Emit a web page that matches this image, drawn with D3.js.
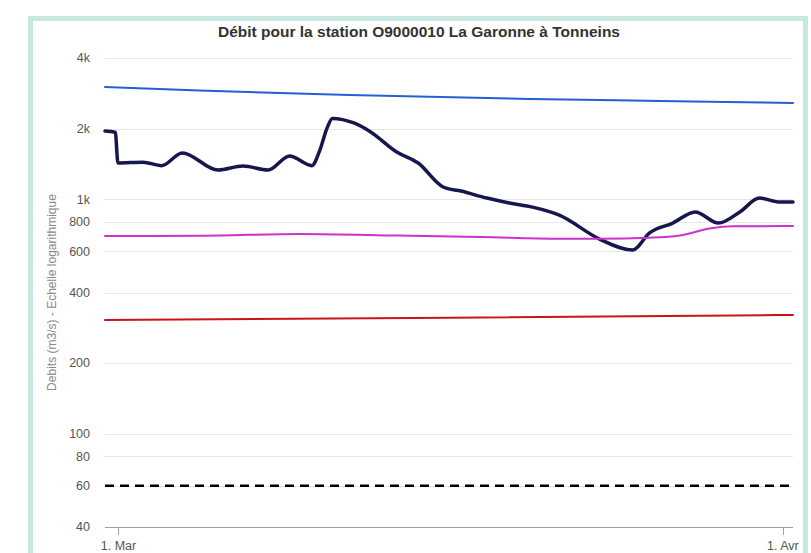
<!DOCTYPE html>
<html lang="fr">
<head>
<meta charset="UTF-8">
<title>Débit O9000010 La Garonne à Tonneins</title>
<script src="https://d3js.org/d3.v7.min.js"></script>
<style>
  body { margin: 0; background: #fff; font-family: "Liberation Sans", Arial, sans-serif; }
  .grid line { stroke: #e6e6e6; stroke-width: 1; }
  .tick-label { fill: #555; font-size: 12.5px; }
</style>
</head>
<body>
<svg id="chart" width="811" height="553"></svg>
<script>
// observed discharge (m3/s)
const debitObs = [
  ["2023-02-28T09:30", 1954], ["2023-02-28T21:00", 1930], ["2023-03-01T00:00", 1426],
  ["2023-03-02T04:00", 1438], ["2023-03-03T01:00", 1390], ["2023-03-04T00:00", 1574],
  ["2023-03-05T16:00", 1331], ["2023-03-06T20:00", 1384], ["2023-03-08T00:00", 1331],
  ["2023-03-09T00:00", 1528], ["2023-03-10T01:00", 1390], ["2023-03-10T10:00", 1620],
  ["2023-03-10T18:00", 2010], ["2023-03-11T00:00", 2210], ["2023-03-12T00:00", 2113],
  ["2023-03-12T18:00", 1945], ["2023-03-14T00:00", 1589], ["2023-03-15T00:00", 1426],
  ["2023-03-16T04:00", 1127], ["2023-03-17T00:00", 1083], ["2023-03-18T05:00", 1011],
  ["2023-03-19T06:00", 963], ["2023-03-20T08:00", 925], ["2023-03-21T14:00", 855],
  ["2023-03-23T11:00", 676], ["2023-03-25T00:00", 607], ["2023-03-25T19:00", 718],
  ["2023-03-26T21:00", 791], ["2023-03-27T22:00", 882], ["2023-03-29T00:00", 791],
  ["2023-03-30T00:00", 882], ["2023-03-30T22:00", 1011], ["2023-03-31T21:00", 972],
  ["2023-04-01T11:30", 972]
];
const seuilBleu = [
  ["2023-02-28T09:30", 3008], ["2023-03-04T19:00", 2907], ["2023-03-08T13:00", 2836],
  ["2023-03-11T19:00", 2782], ["2023-03-20T05:00", 2675], ["2023-03-26T07:00", 2623],
  ["2023-04-01T11:30", 2571]
];
const seuilMagenta = [
  ["2023-02-28T09:30", 697], ["2023-03-04T19:00", 698], ["2023-03-09T12:00", 711],
  ["2023-03-14T02:00", 700], ["2023-03-17T22:00", 690], ["2023-03-21T14:00", 678],
  ["2023-03-23T11:00", 678], ["2023-03-25T19:00", 685], ["2023-03-27T05:00", 700],
  ["2023-03-28T14:00", 750], ["2023-03-29T17:00", 766], ["2023-04-01T11:30", 768]
];
const seuilRouge = [
  ["2023-02-28T09:30", 305], ["2023-03-16T12:00", 312], ["2023-04-01T11:30", 321]
];
const seuilNoir = [["2023-02-28T09:30", 60], ["2023-04-01T11:30", 60]];

const yTicks = [40, 60, 80, 100, 200, 400, 600, 800, 1000, 2000, 4000];
const xTicks = ["2023-03-01T00:00", "2023-04-01T00:00"];
const xTickLabels = ["1. Mar", "1. Avr"];
const title = "Débit pour la station O9000010 La Garonne à Tonneins";
const yTitle = "Debits (m3/s) - Echelle logarithmique";

const parse = d3.timeParse("%Y-%m-%dT%H:%M");
const plotLeft = 105, plotRight = 793, plotTop = 58, plotBottom = 527;

const svg = d3.select("#chart");

// frame
svg.append("rect")
  .attr("x", 30.5).attr("y", 18.5).attr("width", 775).attr("height", 600)
  .attr("fill", "#fff").attr("stroke", "#c7e8e0").attr("stroke-width", 5);

const x = d3.scaleTime()
  .domain(d3.extent(debitObs, d => parse(d[0])))
  .range([plotLeft, plotRight]);
const y = d3.scaleLog().domain([40, 4000]).range([plotBottom, plotTop]);

// grid
svg.append("g").attr("class", "grid")
  .selectAll("line").data(yTicks.filter(t => t > 40)).join("line")
  .attr("x1", plotLeft).attr("x2", plotRight)
  .attr("y1", d => Math.round(y(d)) + 0.5).attr("y2", d => Math.round(y(d)) + 0.5);

// y labels
svg.append("g").selectAll("text").data(yTicks).join("text")
  .attr("class", "tick-label")
  .attr("x", 90).attr("y", d => y(d)).attr("dy", "0.35em")
  .attr("text-anchor", "end")
  .text(d => d >= 1000 ? (d / 1000) + "k" : d);

// x axis
svg.append("line")
  .attr("x1", plotLeft).attr("x2", plotRight)
  .attr("y1", plotBottom + 0.5).attr("y2", plotBottom + 0.5)
  .attr("stroke", "#a0a0a0");
const xg = svg.append("g").selectAll("g").data(xTicks).join("g")
  .attr("transform", d => `translate(${Math.round(x(parse(d))) + 0.5},${plotBottom})`);
xg.append("line").attr("y1", 0).attr("y2", 8).attr("stroke", "#a0a0a0");
xg.append("text").attr("class", "tick-label")
  .attr("y", 23).attr("text-anchor", "middle")
  .text((d, i) => xTickLabels[i])
  .each(function () {
    const b = this.getBBox();
    const abs = x(parse(d3.select(this.parentNode).datum())) + b.x + b.width;
    if (abs > 798) d3.select(this).attr("x", 798 - abs);
  });

// titles
svg.append("text")
  .attr("x", 419).attr("y", 37).attr("text-anchor", "middle")
  .attr("font-size", 15.5).attr("font-weight", "bold").attr("fill", "#333")
  .text(title);
svg.append("text")
  .attr("transform", `translate(56,${(plotTop + plotBottom) / 2}) rotate(-90)`)
  .attr("text-anchor", "middle")
  .attr("font-size", 12).attr("fill", "#888")
  .text(yTitle);

const line = d3.line()
  .x(d => x(parse(d[0])))
  .y(d => y(d[1]))
  .curve(d3.curveMonotoneX);

const series = [
  { data: debitObs, color: "#17174f", width: 3.5 },
  { data: seuilBleu, color: "#2360d2", width: 2 },
  { data: seuilMagenta, color: "#cc33cc", width: 2 },
  { data: seuilRouge, color: "#cc1414", width: 2 },
  { data: seuilNoir, color: "#000", width: 2.5, dash: "9,6" }
];
series.forEach(s => {
  svg.append("path")
    .datum(s.data)
    .attr("d", line)
    .attr("fill", "none")
    .attr("stroke", s.color)
    .attr("stroke-width", s.width)
    .attr("stroke-linejoin", "round")
    .attr("stroke-linecap", s.dash ? "butt" : "round")
    .attr("stroke-dasharray", s.dash || null);
});
</script>
</body>
</html>
